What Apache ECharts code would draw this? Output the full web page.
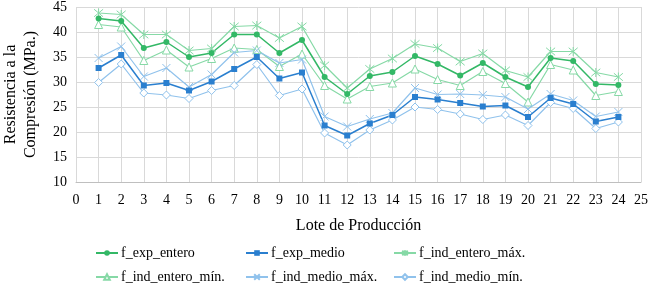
<!DOCTYPE html>
<html>
<head>
<meta charset="utf-8">
<script src="https://cdn.jsdelivr.net/npm/echarts@6/dist/echarts.min.js"></script>
<style>
html, body { margin: 0; padding: 0; background: #fff; }
#chart { width: 650px; height: 288px; }
</style>
</head>
<body>
<div id="chart"></div>
<script>
// lotes de produccion
const lotes = [1, 2, 3, 4, 5, 6, 7, 8, 9, 10, 11, 12, 13, 14, 15, 16, 17, 18, 19, 20, 21, 22, 23, 24];

const fExpEntero =      [42.7, 42.2, 36.8, 38.0, 35.0, 35.8, 39.5, 39.5, 35.8, 38.4, 31.0, 27.6, 31.2, 32.0, 35.2, 33.6, 31.3, 33.8, 31.0, 29.0, 34.8, 34.2, 29.6, 29.4];
const fExpMedio =       [32.8, 35.4, 29.3, 29.8, 28.3, 30.1, 32.6, 35.0, 30.7, 31.9, 21.3, 19.3, 21.7, 23.4, 27.0, 26.5, 25.8, 25.1, 25.3, 23.0, 26.8, 25.6, 22.1, 23.0];
const fIndEnteroMax =   [43.8, 43.5, 39.5, 39.5, 36.3, 36.7, 41.1, 41.3, 38.8, 41.1, 33.3, 28.8, 32.6, 34.7, 37.6, 36.8, 34.1, 35.7, 32.3, 31.0, 36.1, 36.1, 31.9, 31.0];
const fIndEnteroMin =   [41.5, 41.0, 34.3, 36.4, 33.0, 34.7, 36.8, 36.5, 33.1, 35.6, 29.3, 26.6, 29.1, 29.8, 32.6, 30.5, 29.3, 32.1, 29.7, 26.0, 33.5, 32.4, 27.3, 28.1];
const fIndMedioMax =    [34.8, 37.1, 31.1, 32.8, 29.0, 31.5, 35.9, 36.3, 33.8, 34.5, 23.1, 21.1, 22.6, 23.8, 28.8, 27.5, 27.6, 27.4, 27.0, 24.6, 27.6, 26.3, 23.1, 24.0];
const fIndMedioMin =    [29.9, 33.6, 27.8, 27.4, 26.7, 28.3, 29.3, 33.5, 27.3, 28.6, 19.8, 17.4, 20.4, 22.4, 25.0, 24.5, 23.6, 22.5, 23.4, 21.3, 25.9, 24.7, 20.7, 22.0];

const yTicks = { min: 10, max: 45, interval: 5 };
const xTicks = { min: 0, max: 25, interval: 1 };

const font = 'Liberation Serif';
const greenDark = '#33b866';
const greenLight = '#86d9a6';
const blueDark = '#2a7fcf';
const blueLight = '#90c2ec';

const asterisk = 'path://M0 0L10 10M10 0L0 10M5 -1L5 11';
const cross = 'path://M0 0L10 10M10 0L0 10';

function pairs(vals) {
    return lotes.map((l, i) => [l, vals[i]]);
}

function serie(name, vals, color, symbol, size, width, hollow) {
    return {
        name: name,
        type: 'line',
        data: pairs(vals),
        symbol: symbol,
        symbolSize: size,
        showSymbol: true,
        lineStyle: { color: color, width: width },
        itemStyle: hollow
            ? { color: '#fff', borderColor: color, borderWidth: 1 }
            : { color: color, borderColor: color, borderWidth: 0 },
        emphasis: { disabled: true },
        animation: false,
        z: 2
    };
}

// one vertical legend per column, so the columns line up like the original
function legendCol(left, names) {
    return {
        orient: 'vertical',
        left: left,
        top: 246,
        itemWidth: 22,
        itemHeight: 7,
        itemGap: 10,
        padding: 0,
        textStyle: { fontFamily: font, fontSize: 14, color: '#000', padding: [0, 0, 0, -2] },
        data: names
    };
}

let chart = echarts.init(document.getElementById('chart'));

let option = {
    backgroundColor: '#fff',
    textStyle: { fontFamily: font },
    grid: { left: 76, right: 9, top: 7, bottom: 106, containLabel: false, outerBoundsMode: 'none' },
    xAxis: {
        type: 'value',
        min: xTicks.min,
        max: xTicks.max,
        interval: xTicks.interval,
        name: 'Lote de Producción',
        nameLocation: 'middle',
        nameGap: 36,
        nameTextStyle: { fontFamily: font, fontSize: 16, color: '#000' },
        axisLine: { show: true, onZero: false, lineStyle: { color: '#bfbfbf', width: 1 } },
        axisTick: { show: false },
        axisLabel: { fontFamily: font, fontSize: 14, color: '#000', margin: 11 },
        splitLine: { show: true, lineStyle: { color: '#d9d9d9', width: 1 } }
    },
    yAxis: {
        type: 'value',
        min: yTicks.min,
        max: yTicks.max,
        interval: yTicks.interval,
        name: 'Resistencia a la\nCompresión (MPa.)',
        nameLocation: 'middle',
        nameRotate: 90,
        nameGap: 35,
        nameTextStyle: { fontFamily: font, fontSize: 16, color: '#000', lineHeight: 20 },
        axisLine: { show: false },
        axisTick: { show: false },
        axisLabel: { fontFamily: font, fontSize: 14, color: '#000', margin: 9 },
        splitLine: { show: true, lineStyle: { color: '#d9d9d9', width: 1 } }
    },
    legend: [
        legendCol(95, ['f_exp_entero', 'f_ind_entero_mín.']),
        legendCol(245, ['f_exp_medio', 'f_ind_medio_máx.']),
        legendCol(393, ['f_ind_entero_máx.', 'f_ind_medio_mín.'])
    ],
    series: [
        serie('f_ind_entero_máx.', fIndEnteroMax, greenLight, asterisk, 9, 1.2, true),
        serie('f_ind_entero_mín.', fIndEnteroMin, greenLight, 'triangle', 8, 1.2, true),
        serie('f_ind_medio_máx.', fIndMedioMax, blueLight, cross, 8, 1.2, true),
        serie('f_ind_medio_mín.', fIndMedioMin, blueLight, 'diamond', 8, 1.2, true),
        serie('f_exp_entero', fExpEntero, greenDark, 'circle', 6, 1.5, false),
        serie('f_exp_medio', fExpMedio, blueDark, 'rect', 6, 1.5, false)
    ]
};

chart.setOption(option);
</script>
</body>
</html>
